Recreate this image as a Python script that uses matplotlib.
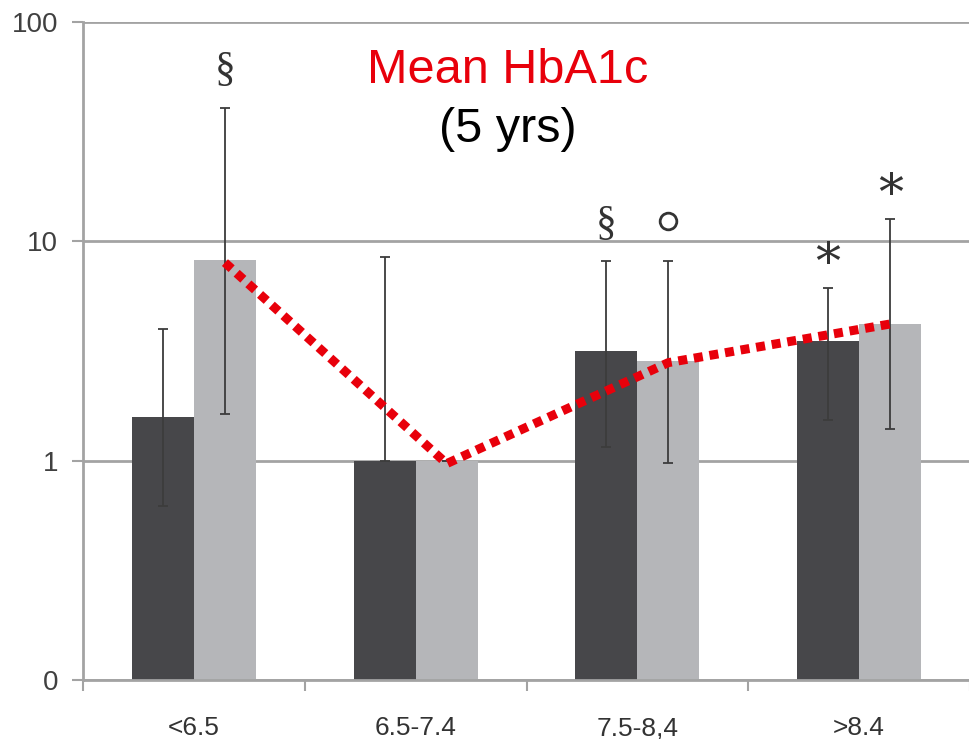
import matplotlib
matplotlib.use("Agg")
from matplotlib import pyplot as plt
import numpy as np

## Data ##
categories = ["<6.5", "6.5-7.4", "7.5-8,4", ">8.4"]
dark_vals = [1.59, 1.0, 3.16, 3.52]
dark_lo = [0.62, 1.0, 1.16, 1.54]
dark_hi = [3.99, 8.5, 8.1, 6.15]
light_vals = [8.18, 1.0, 2.85, 4.2]
light_lo = [1.64, 1.0, 0.98, 1.40]
light_hi = [40.7, 1.0, 8.1, 12.6]
mean_hba1c = [8.0, 0.97, 2.8, 4.2]
dark_marks = ["", "", "§", "*"]
light_marks = ["§", "", "o", "*"]
ytick_vals = [0.1, 1, 10, 100]
ytick_labels = ["0", "1", "10", "100"]

DARK = "#47474a"
LIGHT = "#b5b6b9"
GRID = "#a3a3a3"
ERR = "#3c3c3c"

fig = plt.figure(figsize=(9.7, 7.39), dpi=100)
ax = fig.add_axes([0.0856, 0.0798, 0.9144, 0.8904])

x = np.arange(len(categories))
w = 0.28
xd = x - w / 2
xl = x + w / 2

ax.bar(xd, dark_vals, width=w, color=DARK, zorder=2)
ax.bar(xl, light_vals, width=w, color=LIGHT, zorder=2)

def err(vals, lo, hi):
    v = np.array(vals)
    return [v - np.array(lo), np.array(hi) - v]

ax.errorbar(xd, dark_vals, yerr=err(dark_vals, dark_lo, dark_hi), fmt="none",
            ecolor=ERR, elinewidth=1.3, capsize=3.5, capthick=1.3, zorder=3)
ax.errorbar(xl, light_vals, yerr=err(light_vals, light_lo, light_hi), fmt="none",
            ecolor=ERR, elinewidth=1.3, capsize=3.5, capthick=1.3, zorder=3)

# red dotted trend line
ax.plot(xl, mean_hba1c, color="#e8000b", lw=6.5, linestyle=(0, (1.0, 0.75)),
        dash_capstyle="butt", zorder=5)

# significance marks
for xs, his, marks in [(xd, dark_hi, dark_marks), (xl, light_hi, light_marks)]:
    for xi, h, m in zip(xs, his, marks):
        if not m:
            continue
        if m == "o":
            ax.plot(xi, h * 1.53, marker="o", ms=12, mfc="none", mec="#333333",
                    mew=2, zorder=4)
        elif m == "*":
            ax.text(xi, h * 0.98, "*", ha="center", va="bottom", fontsize=36,
                    family="DejaVu Serif", color="#333333")
        else:
            ax.text(xi, h * 1.2, m, ha="center", va="bottom", fontsize=30,
                    family="Liberation Serif", color="#333333")

ax.text(0.479, 0.927, "Mean HbA1c", transform=ax.transAxes, ha="center",
        va="center", fontsize=35, color="#e8000b", family="Liberation Sans")
ax.text(0.479, 0.836, "(5 yrs)", transform=ax.transAxes, ha="center",
        va="center", fontsize=35, color="black", family="Liberation Sans")

ax.set_yscale("log")
ax.set_ylim(0.1, 100)
ax.set_xlim(-0.5, 3.5)
ax.set_yticks(ytick_vals)
ax.set_yticklabels(ytick_labels)
ax.minorticks_off()
ax.yaxis.grid(True, color=GRID, lw=2, zorder=0)
ax.set_axisbelow(True)

ax.set_xticks(x)
ax.set_xticklabels(categories)
ax.set_xticks(np.arange(-0.5, 4, 1), minor=True)
ax.tick_params(axis="x", which="major", length=0, pad=26, labelsize=19,
               labelcolor="#333333")
ax.tick_params(axis="x", which="minor", length=8, width=1.5, color=GRID,
               direction="out")
ax.tick_params(axis="y", length=8, width=1.5, color=GRID, labelsize=20,
               labelcolor="#404040", pad=10)
for lab in ax.get_xticklabels() + ax.get_yticklabels():
    lab.set_family("Liberation Sans")

for s in ["top", "right"]:
    ax.spines[s].set_visible(False)
for s in ["left", "bottom"]:
    ax.spines[s].set_color(GRID)
    ax.spines[s].set_linewidth(2)

fig.savefig("out.png", dpi=100)
